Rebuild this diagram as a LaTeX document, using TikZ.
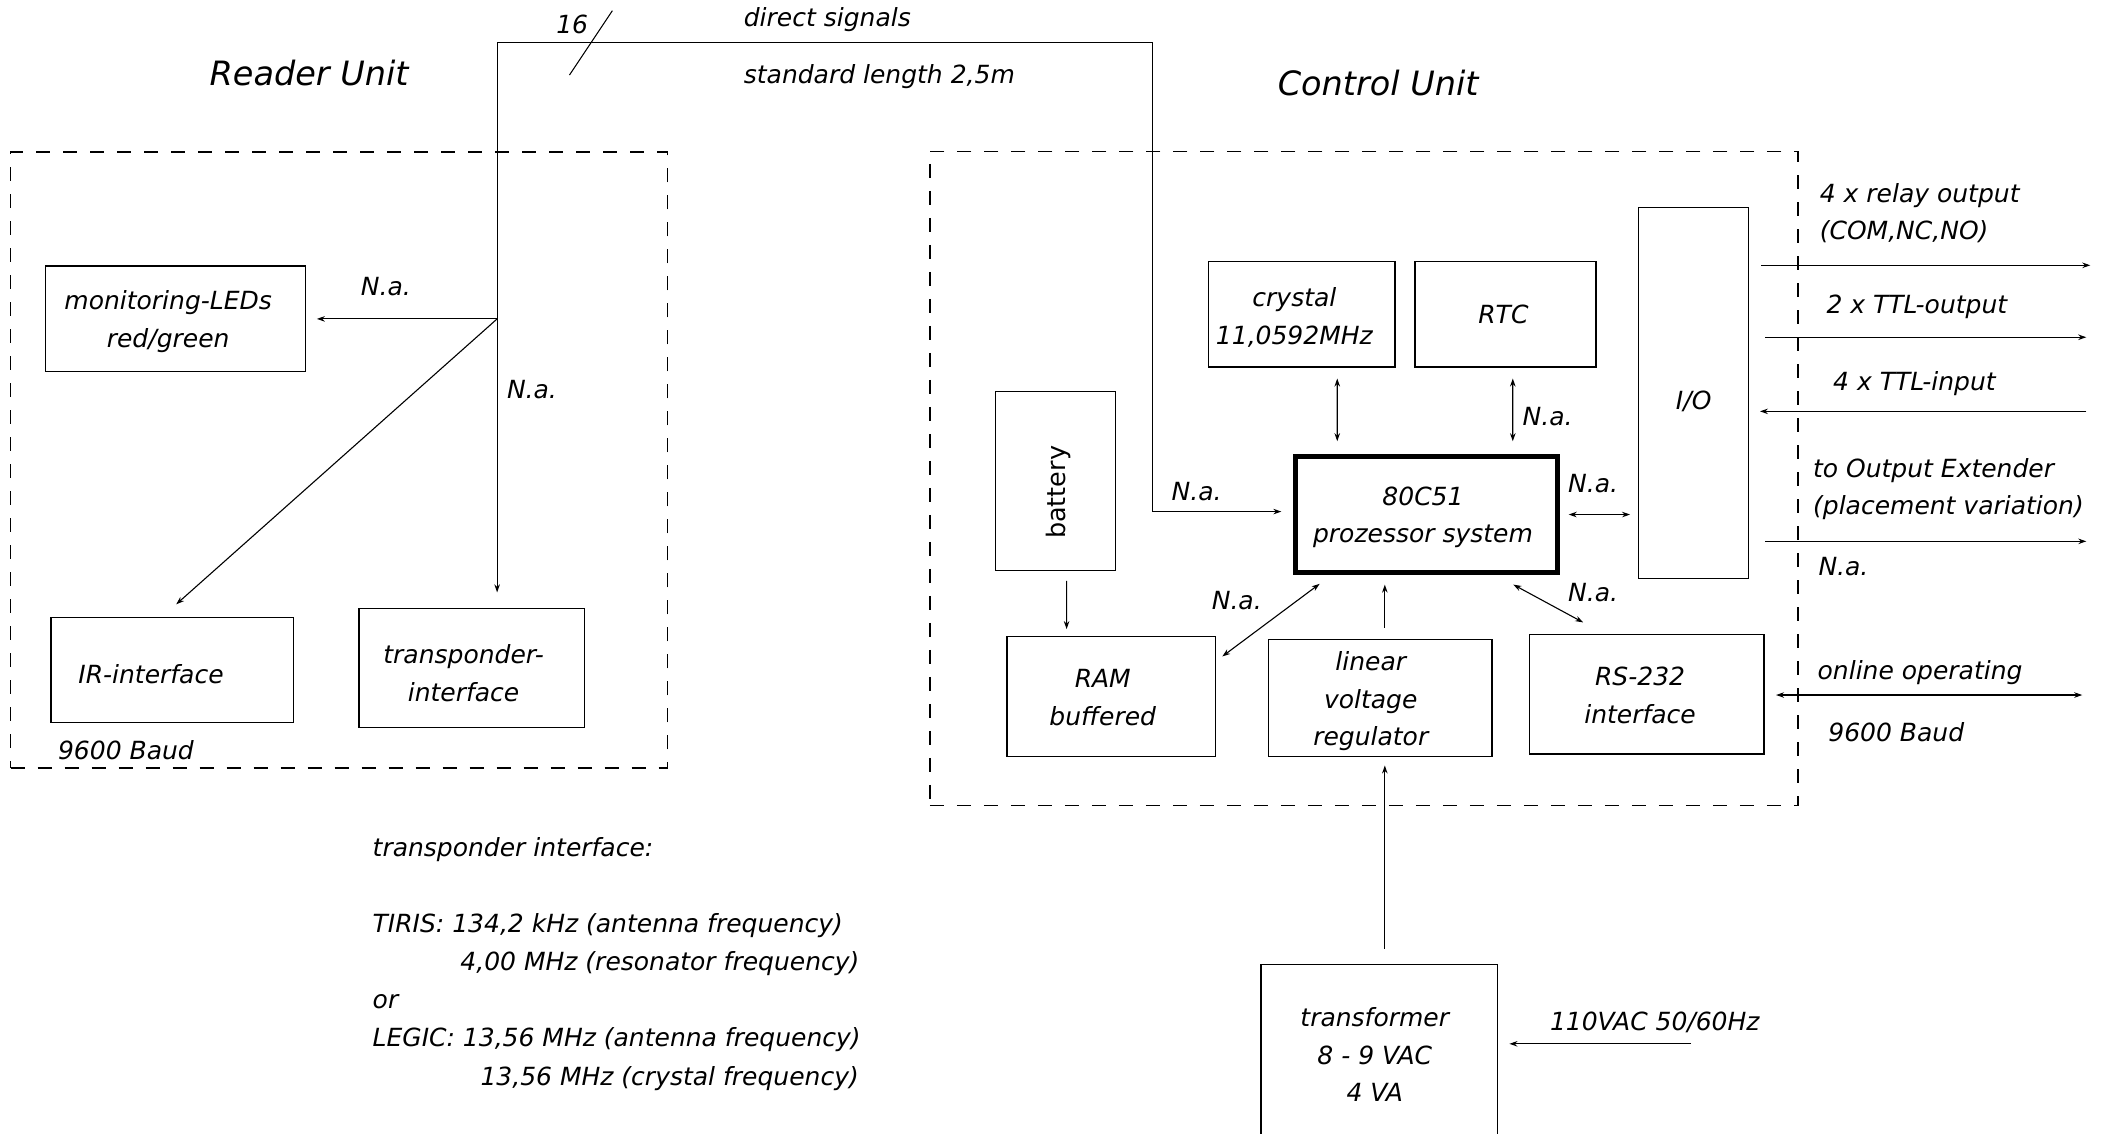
\documentclass[tikz,border=0pt]{standalone}
\usepackage{fontspec}
\setmainfont{DejaVu Sans}
\usetikzlibrary{arrows.meta,fit,calc}
\newcommand\txtfont{\fontsize{25}{37.5}\selectfont\itshape}
\newcommand\ttlfont{\fontsize{33.5}{38}\selectfont\itshape}
\newcommand\batfont{\fontsize{25.5}{30}\selectfont}
\begin{document}
\begin{tikzpicture}[x=1.34pt,y=-1.34pt,
  >={Stealth[length=8pt,width=5.5pt]},
  box/.style={draw, line width=1.3pt, inner sep=0pt},
  cpubox/.style={draw, line width=4.6pt, inner sep=0pt},
  dashbox/.style={draw, line width=1.5pt, dash pattern=on 14pt off 13pt, inner sep=0pt},
  txt/.style={font=\txtfont, inner sep=0pt, align=center},
  ltxt/.style={font=\txtfont, inner sep=0pt, align=left, anchor=west},
  ttl/.style={font=\ttlfont, inner sep=0pt},
  wire/.style={line width=1.1pt},
  arr/.style={wire, ->},
  dbl/.style={wire, <->}]
\fill[white] (0,0) rectangle (1568,846);
\useasboundingbox (0,0) rectangle (1568,846);
\clip (0,0) rectangle (1568,846);

% unit frames
\node[dashbox, fit={(8,113.5)(498,573)}] (reader) {};
\node[dashbox, fit={(694,113)(1342,601)}] (control) {};
\node[ttl] (rtitle) at (230.7,54.7) {Reader Unit};
\node[ttl] (ctitle) at (1028.5,62) {Control Unit};

% reader unit boxes
\node[box, fit={(34,198.5)(228,277)}] (led) {};
\node[box, fit={(38,461)(219,539)}] (ir) {};
\node[box, fit={(268,454)(436,543)}] (trn) {};
\node[txt] (ledtxt) at (125.5,240) {monitoring-LEDs\\red/green};
\node[txt] (irtxt) at (112.7,503) {IR-interface};
\node[txt] (trntxt) at (346,502.5) {transponder-\\interface};
\node[txt] (baudl) at (94,559.7) {9600 Baud};

% control unit boxes
\node[box, fit={(902,195)(1041,274)}] (cry) {};
\node[box, fit={(1056,195)(1191,274)}] (rtc) {};
\node[box, fit={(1223,155)(1305,431.6)}] (io) {};
\node[box, fit={(743,292)(832.5,426)}] (bat) {};
\node[cpubox, fit={(966.7,340.7)(1162.3,427.3)}] (cpu) {};
\node[box, fit={(751.5,475)(907,564.7)}] (ram) {};
\node[box, fit={(946.6,477)(1113.5,564.7)}] (reg) {};
\node[box, fit={(1141.5,473.4)(1316.4,562.8)}] (rs) {};
\node[box, fit={(941,720)(1117.5,860)}] (trf) {};

\node[txt] (crytxt) at (966,237) {crystal\\11,0592MHz};
\node[txt] (rtctxt) at (1122,235) {RTC};
\node[txt] (iotxt) at (1264,299.8) {I/O};
\node[font=\batfont, inner sep=0pt, rotate=90] (battxt) at (790,367.5) {battery};
\node[txt] (cputxt) at (1062,386) {80C51\\prozessor system};
\node[txt] (ramtxt) at (823,520.5) {RAM\\buffered};
\node[txt] (regtxt) at (1023,523.5) {linear\\voltage\\regulator};
\node[txt] (rstxt) at (1224,519) {RS-232\\interface};
\node[txt] (trftxt) at (1026,787) {transformer\\8 - 9 VAC\\4 VA};

% labels
\node[txt] (n16) at (427,18) {16};
\node[ltxt] (dirsig) at (555,15) {direct signals};
\node[ltxt] (stdlen) at (555,57) {standard length 2,5m};
\node[txt] (naled) at (288,214) {N.a.};
\node[txt] (natrn) at (397,291) {N.a.};
\node[txt] (nacpu) at (893,367) {N.a.};
\node[txt] (nartc) at (1155,311) {N.a.};
\node[txt] (naio) at (1189,361) {N.a.};
\node[txt] (naram) at (923,448) {N.a.};
\node[txt] (nars) at (1189,442) {N.a.};
\node[txt] (vac) at (1235,762.7) {110VAC 50/60Hz};
\node[ltxt] (relay) at (1358,159.2) {4 x relay output\\(COM,NC,NO)};
\node[ltxt] (ttlo) at (1363,228.9) {2 x TTL-output};
\node[ltxt] (ttli) at (1368,286) {4 x TTL-input};
\node[ltxt] (oext) at (1353,365) {to Output Extender\\(placement variation)};
\node[ltxt] (naoe) at (1357,423) {N.a.};
\node[ltxt] (online) at (1356.4,502) {online operating};
\node[ltxt] (baudr) at (1364.4,546.4) {9600 Baud};

% transponder notes
\node[ltxt] (tn1) at (278,634) {transponder interface:};
\node[ltxt] (tn2) at (278,690.5) {TIRIS: 134,2 kHz (antenna frequency)};
\node[ltxt] (tn3) at (343.5,719) {4,00 MHz (resonator frequency)};
\node[ltxt] (tn4) at (278,747.5) {or};
\node[ltxt] (tn5) at (278,776) {LEGIC: 13,56 MHz (antenna frequency)};
\node[ltxt] (tn6) at (358.5,804.7) {13,56 MHz (crystal frequency)};

% reader unit wiring
\coordinate (J) at (371,238);
\coordinate (T2) at (860,32);
\draw[arr] (J) |- (T2) |- ($(cpu.west)+(-8.7,-2.2)$);
\draw[wire] (425,56) -- (457,8);
\draw[arr] (J) -- ($(J -| led.east)+(8,0)$);
\draw[arr] (J) -- ($(ir.north)+(3,-9.5)$);
\draw[arr] (J) -- ($(J |- trn.north)+(0,-11.4)$);

% control unit wiring
\draw[dbl] ($(cry.south)+(26.5,8)$) -- ($(cpu.north)+(-66.5,-9.7)$);
\draw[dbl] ($(rtc.south)+(5.5,8)$) -- ($(cpu.north)+(64.5,-9.7)$);
\draw[dbl] ($(cpu.east)+(6.7,0)$) -- ($(cpu.east -| io.west)+(-6,0)$);
\draw[arr] ($(bat.south)+(8.25,7)$) -- ($(ram.north)+(-33.25,-5)$);
\draw[dbl] ($(ram.north east)+(4.7,15.4)$) -- ($(cpu.south west)+(19.9,6.7)$);
\draw[arr] ($(reg.north)+(3.45,-8)$) -- ($(cpu.south)+(-31,7.3)$);
\draw[dbl] ($(rs.north west)+(40.5,-8.4)$) -- ($(cpu.south east)+(-34.6,7.3)$);
\draw[arr] ($(trf.north)+(4.25,-11.3)$) -- ($(reg.south)+(3.45,6.1)$);
\coordinate (V) at (1262,779);
\draw[arr] (V) -- ($(trf.east |- V)+(8.5,0)$);

% external I/O lines
\coordinate (R1) at (1560,198);
\coordinate (R2) at (1557,251.7);
\coordinate (R3) at (1557,307);
\coordinate (R4) at (1557,404);
\coordinate (R5) at (1554,518.7);
\draw[arr] ($(io.east |- R1)+(9,0)$) -- (R1);
\draw[arr] ($(io.east |- R2)+(12,0)$) -- (R2);
\draw[arr] (R3) -- ($(io.east |- R3)+(8,0)$);
\draw[arr] ($(io.east |- R4)+(12,0)$) -- (R4);
\draw[dbl] ($(rs.east |- R5)+(8.6,0)$) -- (R5);
\end{tikzpicture}
\end{document}
